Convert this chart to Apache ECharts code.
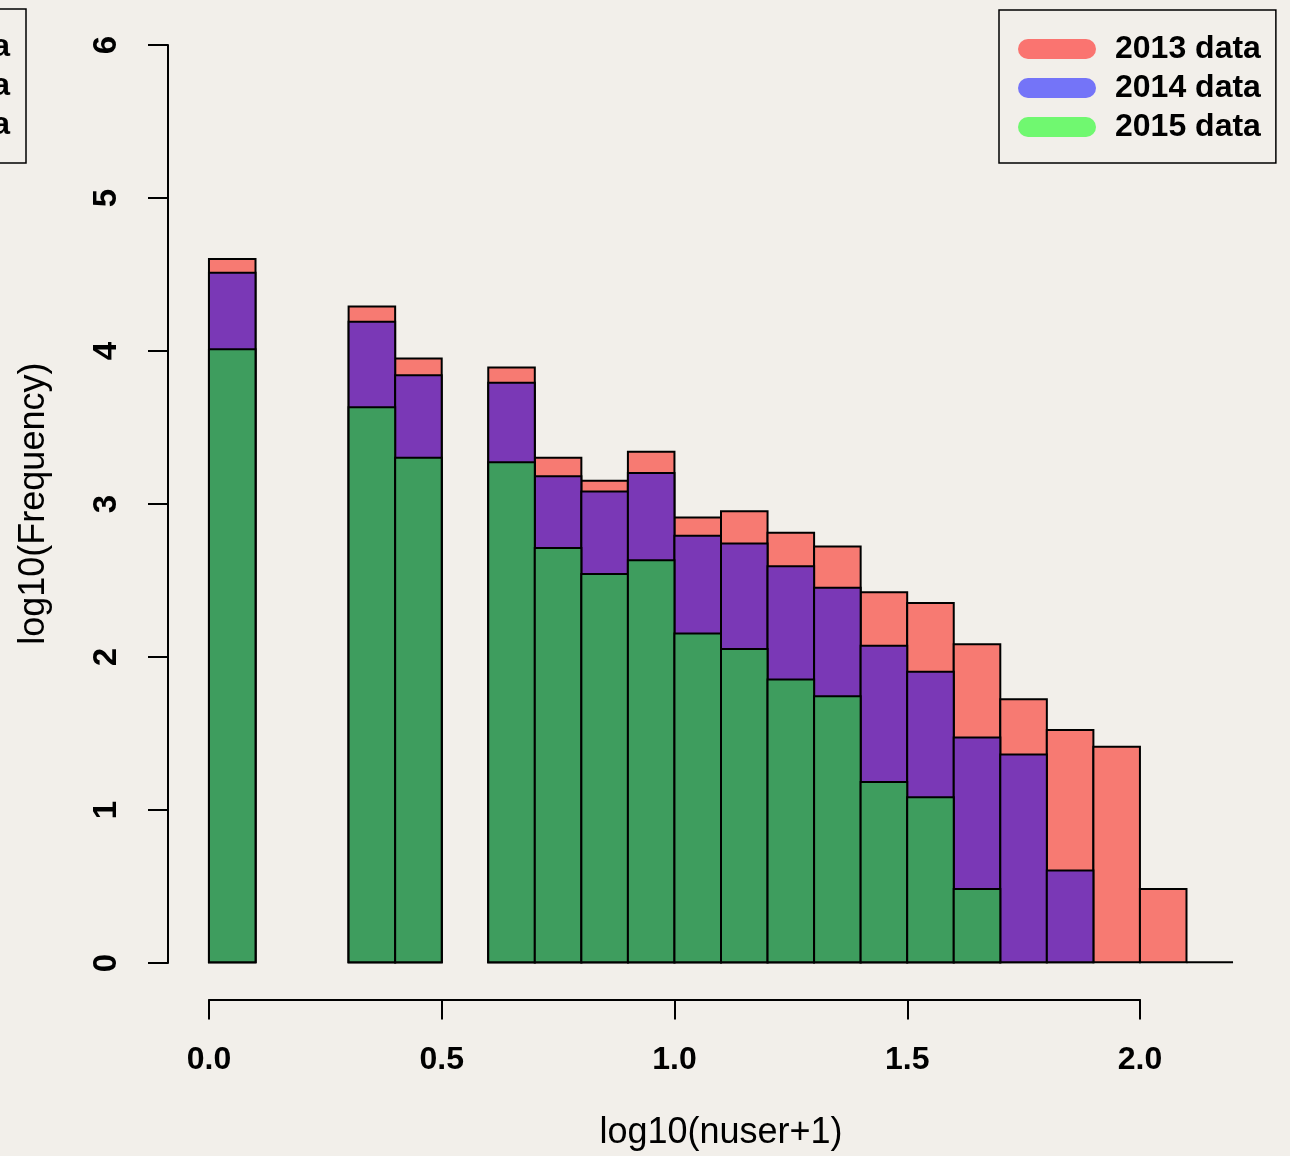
<!DOCTYPE html>
<html>
<head>
<meta charset="utf-8">
<script src="https://cdn.jsdelivr.net/npm/echarts@6/dist/echarts.min.js"></script>
<style>
html,body{margin:0;padding:0;background:#F2EFEA;}
#chart{width:1290px;height:1156px;}
</style>
</head>
<body>
<div id="chart"></div>
<script>
// ---- data (log10 scale values) ----
const binStart = [0.0, 0.3, 0.4, 0.6, 0.7, 0.8, 0.9, 1.0, 1.1, 1.2, 1.3, 1.4, 1.5, 1.6, 1.7, 1.8, 1.9, 2.0, 2.1];
const binWidth = 0.1;
const y2013 = [4.60, 4.29, 3.95, 3.89, 3.30, 3.15, 3.34, 2.91, 2.95, 2.81, 2.72, 2.42, 2.35, 2.08, 1.72, 1.52, 1.41, 0.48, 0];
const y2014 = [4.51, 4.19, 3.84, 3.79, 3.18, 3.08, 3.20, 2.79, 2.74, 2.59, 2.45, 2.07, 1.90, 1.47, 1.36, 0.60, null, null, null];
const y2015 = [4.01, 3.63, 3.30, 3.27, 2.71, 2.54, 2.63, 2.15, 2.05, 1.85, 1.74, 1.18, 1.08, 0.48, null, null, null, null, null];
const seriesNames = ['2013 data', '2014 data', '2015 data'];
const xTickLabels = ['0.0', '0.5', '1.0', '1.5', '2.0'];
const yTickLabels = ['0', '1', '2', '3', '4', '5', '6'];

const barColors = ['#F77A72', '#7A38B6', '#3E9D5E'];
const legendColors = ['#FA7470', '#7474F8', '#70F870'];
const FONT = '"Liberation Sans", Arial, Helvetica, sans-serif';

function toData(vals) {
  const out = [];
  binStart.forEach((b, i) => { if (vals[i] !== null && vals[i] !== undefined) out.push([b, vals[i]]); });
  return out;
}

function makeRender(color) {
  return function (params, api) {
    const x0 = api.value(0), h = api.value(1);
    const p0 = api.coord([x0, h]);
    const p1 = api.coord([x0 + binWidth, 0]);
    return {
      type: 'rect',
      shape: { x: p0[0], y: p0[1], width: p1[0] - p0[0], height: p1[1] - p0[1] },
      style: { fill: color, stroke: '#000', lineWidth: 2 }
    };
  };
}

const pill = 'path://M10,0 L68,0 A10,10 0 0 1 68,20 L10,20 A10,10 0 0 1 10,0 Z';
const hiddenAxis = { axisLine: { show: false }, axisTick: { show: false }, axisLabel: { show: false }, splitLine: { show: false } };

const chart = echarts.init(document.getElementById('chart'), null, { renderer: 'canvas' });
const option = {
  backgroundColor: '#F2EFEA',
  animation: false,
  textStyle: { fontFamily: FONT },
  grid: [
    { left: 168, width: 1106, top: 8.3, height: 991.1 },
    { left: 209, width: 931, top: 998.4, height: 1 },
    { left: 168, width: 1, top: 45, height: 918 }
  ],
  xAxis: [
    Object.assign({ gridIndex: 0, type: 'value', min: -0.088, max: 2.288,
      name: 'log10(nuser+1)', nameLocation: 'middle', nameGap: 116,
      nameTextStyle: { fontSize: 36, color: '#000', fontFamily: FONT } }, hiddenAxis),
    { gridIndex: 1, type: 'value', min: 0, max: 2, interval: 0.5,
      axisLine: { show: true, lineStyle: { color: '#000', width: 2 } },
      axisTick: { show: true, length: 20, lineStyle: { color: '#000', width: 2 } },
      axisLabel: { show: true, margin: 45, fontSize: 32, fontWeight: 'bold', color: '#000', fontFamily: FONT,
        formatter: v => xTickLabels[Math.round(v / 0.5)] },
      splitLine: { show: false } },
    Object.assign({ gridIndex: 2, type: 'value', min: 0, max: 1 }, hiddenAxis)
  ],
  yAxis: [
    Object.assign({ gridIndex: 0, type: 'value', min: -0.24, max: 6.24,
      name: 'log10(Frequency)', nameLocation: 'middle', nameGap: 116,
      nameTextStyle: { fontSize: 36, color: '#000', fontFamily: FONT } }, hiddenAxis),
    Object.assign({ gridIndex: 1, type: 'value', min: 0, max: 1 }, hiddenAxis),
    { gridIndex: 2, type: 'value', min: 0, max: 6, interval: 1, position: 'left',
      axisLine: { show: true, lineStyle: { color: '#000', width: 2 } },
      axisTick: { show: true, length: 20, lineStyle: { color: '#000', width: 2 } },
      axisLabel: { show: true, rotate: 90, margin: 45, fontSize: 33, fontWeight: 'bold', color: '#000', fontFamily: FONT,
        formatter: v => yTickLabels[Math.round(v)] },
      splitLine: { show: false } }
  ],
  legend: {
    orient: 'vertical', left: 999, top: 10,
    padding: [23, 15, 20, 19],
    borderColor: '#000', borderWidth: 1.5,
    itemWidth: 78, itemHeight: 20, itemGap: 7,
    icon: pill, selectedMode: false,
    textStyle: { fontSize: 32, fontWeight: 'bold', color: '#000', fontFamily: FONT, lineHeight: 32, padding: [0, 0, 0, 14] },
    data: seriesNames.map((n, i) => ({ name: n, icon: pill, itemStyle: { color: legendColors[i], borderWidth: 0 } }))
  },
  graphic: [
    { type: 'rect', x: -250, y: 9, shape: { x: 0, y: 0, width: 276, height: 154 },
      style: { fill: 'none', stroke: '#000', lineWidth: 1.5 }, silent: true },
    ...seriesNames.map((n, i) => ({
      type: 'text', x: 10, y: [47, 86, 125][i], silent: true,
      style: { text: n, fill: '#000', fontSize: 32, fontWeight: 'bold', fontFamily: FONT, align: 'right', verticalAlign: 'middle' }
    }))
  ],
  series: [
    { name: seriesNames[0], type: 'custom', xAxisIndex: 0, yAxisIndex: 0, color: barColors[0],
      renderItem: makeRender(barColors[0]), data: toData(y2013), encode: { x: 0, y: 1 } },
    { name: seriesNames[1], type: 'custom', xAxisIndex: 0, yAxisIndex: 0, color: barColors[1],
      renderItem: makeRender(barColors[1]), data: toData(y2014), encode: { x: 0, y: 1 } },
    { name: seriesNames[2], type: 'custom', xAxisIndex: 0, yAxisIndex: 0, color: barColors[2],
      renderItem: makeRender(barColors[2]), data: toData(y2015), encode: { x: 0, y: 1 } }
  ]
};
chart.setOption(option);
</script>
</body>
</html>
